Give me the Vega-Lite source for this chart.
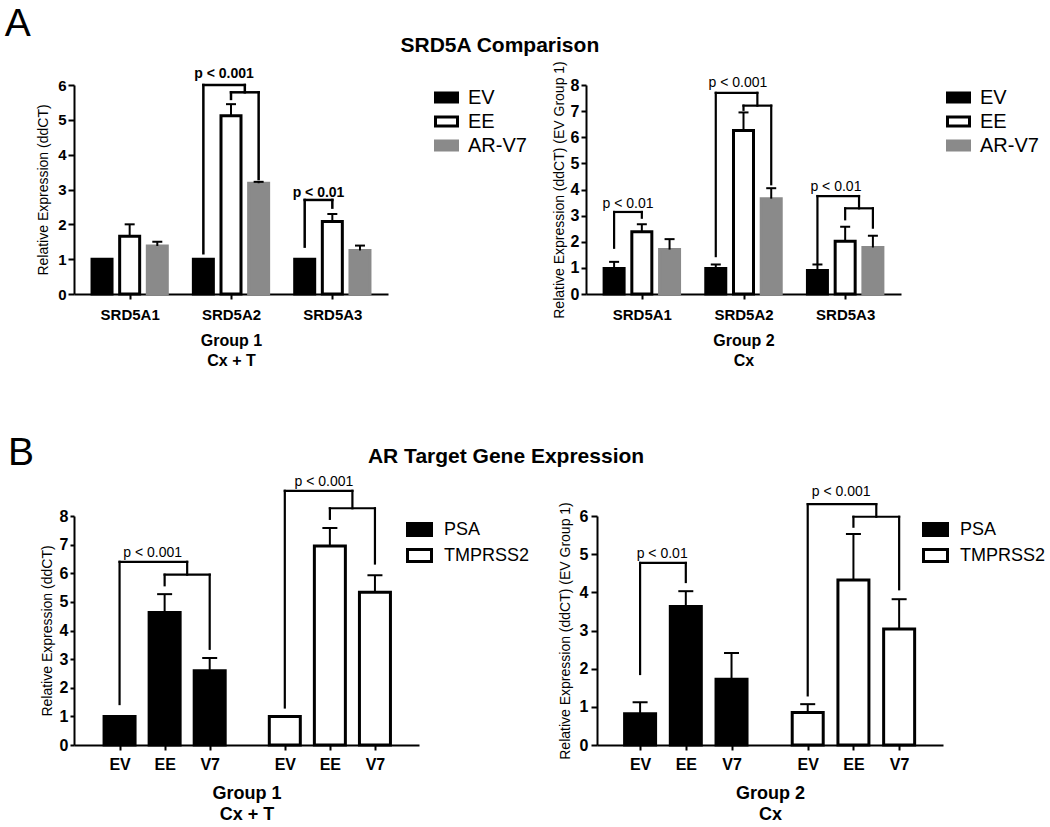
{
  "$schema": "https://vega.github.io/schema/vega-lite/v6.json",
  "padding": {"left": 4, "top": 4, "right": 0, "bottom": 0},
  "config": {
    "font": "Liberation Sans",
    "view": {"stroke": null},
    "axis": {"domainColor": "#000", "domainWidth": 2, "tickColor": "#000", "tickWidth": 2, "labelColor": "#000", "titleColor": "#000", "grid": false, "labelFont": "Liberation Sans", "titleFont": "Liberation Sans", "labelFlush": false, "labelOverlap": false},
    "legend": {"labelFont": "Liberation Sans", "labelColor": "#000"},
    "title": {"color": "#000", "font": "Liberation Sans"},
    "text": {"font": "Liberation Sans", "color": "#000"}
  },
  "resolve": {"scale": {"fill": "independent", "stroke": "independent"}, "legend": {"fill": "independent", "stroke": "independent"}},
  "datasets": {
    "bars": [
      {"panel": "A1", "label": "SRD5A1", "series": "EV", "x": 3, "y": 1.0, "hi": null},
      {"panel": "A1", "label": "SRD5A1", "series": "EE", "x": 6, "y": 1.66, "hi": 2.0},
      {"panel": "A1", "label": "SRD5A1", "series": "AR-V7", "x": 9, "y": 1.38, "hi": 1.5},
      {"panel": "A1", "label": "SRD5A2", "series": "EV", "x": 14, "y": 1.0, "hi": null},
      {"panel": "A1", "label": "SRD5A2", "series": "EE", "x": 17, "y": 5.12, "hi": 5.45},
      {"panel": "A1", "label": "SRD5A2", "series": "AR-V7", "x": 20, "y": 3.18, "hi": 3.22},
      {"panel": "A1", "label": "SRD5A3", "series": "EV", "x": 25, "y": 1.0, "hi": null},
      {"panel": "A1", "label": "SRD5A3", "series": "EE", "x": 28, "y": 2.08, "hi": 2.3},
      {"panel": "A1", "label": "SRD5A3", "series": "AR-V7", "x": 31, "y": 1.25, "hi": 1.39},
      {"panel": "A2", "label": "SRD5A1", "series": "EV", "x": 3, "y": 0.98, "hi": 1.23},
      {"panel": "A2", "label": "SRD5A1", "series": "EE", "x": 6, "y": 2.38, "hi": 2.67},
      {"panel": "A2", "label": "SRD5A1", "series": "AR-V7", "x": 9, "y": 1.7, "hi": 2.1},
      {"panel": "A2", "label": "SRD5A2", "series": "EV", "x": 14, "y": 0.98, "hi": 1.13},
      {"panel": "A2", "label": "SRD5A2", "series": "EE", "x": 17, "y": 6.26, "hi": 6.95},
      {"panel": "A2", "label": "SRD5A2", "series": "AR-V7", "x": 20, "y": 3.65, "hi": 4.05},
      {"panel": "A2", "label": "SRD5A3", "series": "EV", "x": 25, "y": 0.9, "hi": 1.13},
      {"panel": "A2", "label": "SRD5A3", "series": "EE", "x": 28, "y": 2.02, "hi": 2.57},
      {"panel": "A2", "label": "SRD5A3", "series": "AR-V7", "x": 31, "y": 1.78, "hi": 2.23},
      {"panel": "B1", "label": "EV", "series": "PSA", "x": 3, "y": 1.0, "hi": null},
      {"panel": "B1", "label": "EE", "series": "PSA", "x": 6, "y": 4.63, "hi": 5.27},
      {"panel": "B1", "label": "V7", "series": "PSA", "x": 9, "y": 2.59, "hi": 3.04},
      {"panel": "B1", "label": "EV", "series": "TMPRSS2", "x": 14, "y": 1.0, "hi": null},
      {"panel": "B1", "label": "EE", "series": "TMPRSS2", "x": 17, "y": 6.95, "hi": 7.58},
      {"panel": "B1", "label": "V7", "series": "TMPRSS2", "x": 20, "y": 5.34, "hi": 5.93},
      {"panel": "B2", "label": "EV", "series": "PSA", "x": 3, "y": 0.82, "hi": 1.12},
      {"panel": "B2", "label": "EE", "series": "PSA", "x": 6, "y": 3.63, "hi": 4.03},
      {"panel": "B2", "label": "V7", "series": "PSA", "x": 9, "y": 1.72, "hi": 2.41},
      {"panel": "B2", "label": "EV", "series": "TMPRSS2", "x": 14, "y": 0.85, "hi": 1.07},
      {"panel": "B2", "label": "EE", "series": "TMPRSS2", "x": 17, "y": 4.32, "hi": 5.53},
      {"panel": "B2", "label": "V7", "series": "TMPRSS2", "x": 20, "y": 3.04, "hi": 3.82}
    ],
    "brackets": [
      {"panel": "A1", "x": 14, "y": 1.17, "x2": 14, "y2": 6.0},
      {"panel": "A1", "x": 14, "y": 6.0, "x2": 18.5, "y2": 6.0},
      {"panel": "A1", "x": 18.5, "y": 6.0, "x2": 18.5, "y2": 5.79},
      {"panel": "A1", "x": 17, "y": 5.6, "x2": 17, "y2": 5.79},
      {"panel": "A1", "x": 17, "y": 5.79, "x2": 20, "y2": 5.79},
      {"panel": "A1", "x": 20, "y": 5.79, "x2": 20, "y2": 3.3},
      {"panel": "A1", "x": 25, "y": 1.36, "x2": 25, "y2": 2.7},
      {"panel": "A1", "x": 25, "y": 2.7, "x2": 28, "y2": 2.7},
      {"panel": "A1", "x": 28, "y": 2.7, "x2": 28, "y2": 2.48},
      {"panel": "A2", "x": 3, "y": 1.77, "x2": 3, "y2": 3.14},
      {"panel": "A2", "x": 3, "y": 3.14, "x2": 6, "y2": 3.14},
      {"panel": "A2", "x": 6, "y": 3.14, "x2": 6, "y2": 2.92},
      {"panel": "A2", "x": 14, "y": 1.45, "x2": 14, "y2": 7.7},
      {"panel": "A2", "x": 14, "y": 7.7, "x2": 18.5, "y2": 7.7},
      {"panel": "A2", "x": 18.5, "y": 7.7, "x2": 18.5, "y2": 7.21},
      {"panel": "A2", "x": 17, "y": 7.05, "x2": 17, "y2": 7.21},
      {"panel": "A2", "x": 17, "y": 7.21, "x2": 20, "y2": 7.21},
      {"panel": "A2", "x": 20, "y": 7.21, "x2": 20, "y2": 4.2},
      {"panel": "A2", "x": 25, "y": 1.19, "x2": 25, "y2": 3.75},
      {"panel": "A2", "x": 25, "y": 3.75, "x2": 29.5, "y2": 3.75},
      {"panel": "A2", "x": 29.5, "y": 3.75, "x2": 29.5, "y2": 3.28},
      {"panel": "A2", "x": 28, "y": 2.86, "x2": 28, "y2": 3.28},
      {"panel": "A2", "x": 28, "y": 3.28, "x2": 31, "y2": 3.28},
      {"panel": "A2", "x": 31, "y": 3.28, "x2": 31, "y2": 2.54},
      {"panel": "B1", "x": 3, "y": 1.43, "x2": 3, "y2": 6.4},
      {"panel": "B1", "x": 3, "y": 6.4, "x2": 7.5, "y2": 6.4},
      {"panel": "B1", "x": 7.5, "y": 6.4, "x2": 7.5, "y2": 5.95},
      {"panel": "B1", "x": 6, "y": 5.58, "x2": 6, "y2": 5.95},
      {"panel": "B1", "x": 6, "y": 5.95, "x2": 9, "y2": 5.95},
      {"panel": "B1", "x": 9, "y": 5.95, "x2": 9, "y2": 3.36},
      {"panel": "B1", "x": 14, "y": 1.31, "x2": 14, "y2": 8.88},
      {"panel": "B1", "x": 14, "y": 8.88, "x2": 18.5, "y2": 8.88},
      {"panel": "B1", "x": 18.5, "y": 8.88, "x2": 18.5, "y2": 8.27},
      {"panel": "B1", "x": 17, "y": 7.9, "x2": 17, "y2": 8.27},
      {"panel": "B1", "x": 17, "y": 8.27, "x2": 20, "y2": 8.27},
      {"panel": "B1", "x": 20, "y": 8.27, "x2": 20, "y2": 6.34},
      {"panel": "B2", "x": 3, "y": 1.86, "x2": 3, "y2": 4.77},
      {"panel": "B2", "x": 3, "y": 4.77, "x2": 6, "y2": 4.77},
      {"panel": "B2", "x": 6, "y": 4.77, "x2": 6, "y2": 4.27},
      {"panel": "B2", "x": 14, "y": 1.3, "x2": 14, "y2": 6.31},
      {"panel": "B2", "x": 14, "y": 6.31, "x2": 18.5, "y2": 6.31},
      {"panel": "B2", "x": 18.5, "y": 6.31, "x2": 18.5, "y2": 5.98},
      {"panel": "B2", "x": 17, "y": 5.72, "x2": 17, "y2": 5.98},
      {"panel": "B2", "x": 17, "y": 5.98, "x2": 20, "y2": 5.98},
      {"panel": "B2", "x": 20, "y": 5.98, "x2": 20, "y2": 4.08}
    ],
    "plabels": [
      {"panel": "A1", "x": 16.25, "y": 6.31, "text": "p < 0.001"},
      {"panel": "A1", "x": 26.5, "y": 2.89, "text": "p < 0.01"},
      {"panel": "A2", "x": 4.5, "y": 3.43, "text": "p < 0.01"},
      {"panel": "A2", "x": 16.4, "y": 8.07, "text": "p < 0.001"},
      {"panel": "A2", "x": 27.0, "y": 4.1, "text": "p < 0.01"},
      {"panel": "B1", "x": 5.2, "y": 6.72, "text": "p < 0.001"},
      {"panel": "B1", "x": 16.6, "y": 9.2, "text": "p < 0.001"},
      {"panel": "B2", "x": 4.45, "y": 5.0, "text": "p < 0.01"},
      {"panel": "B2", "x": 16.2, "y": 6.62, "text": "p < 0.001"}
    ]
  },
  "vconcat": [
    {
      "title": {"text": "A", "fontSize": 39, "fontWeight": "normal", "anchor": "start", "dx": -32, "offset": -9},
      "resolve": {"scale": {"fill": "independent", "stroke": "independent"}, "legend": {"fill": "independent", "stroke": "independent"}},
      "vconcat": [
        {
          "title": {"text": "SRD5A Comparison", "fontSize": 21, "fontWeight": "bold", "anchor": "middle", "offset": 5, "dx": -38},
          "bounds": "flush",
          "spacing": 198,
          "resolve": {"scale": {"fill": "independent", "stroke": "independent"}, "legend": {"fill": "independent", "stroke": "independent"}},
          "hconcat": [
            {
              "width": 314, "height": 209,
              "encoding": {
                "x": {"field": "x", "type": "quantitative", "scale": {"domain": [0.5, 33.5], "nice": false, "zero": false},
                  "axis": {"values": [6, 17, 28], "labelExpr": "datum.value == 6 ? 'SRD5A1' : datum.value == 17 ? 'SRD5A2' : 'SRD5A3'", "labelFontSize": 15, "labelFontWeight": "bold", "tickSize": 5, "labelPadding": 8, "title": ["Group 1", "Cx + T"], "titleFontSize": 16, "titleFontWeight": "bold", "titleLineHeight": 20, "titlePadding": 10}},
                "y": {"field": "y", "type": "quantitative", "stack": null, "scale": {"domain": [0, 6], "nice": false},
                  "axis": {"values": [0, 1, 2, 3, 4, 5, 6], "title": "Relative Expression (ddCT)", "titleFontSize": 14, "titleFontWeight": "normal", "titlePadding": 7, "labelFontSize": 15, "labelFontWeight": "bold", "tickSize": 6, "labelPadding": 2}}
              },
              "layer": [
                {"data": {"name": "bars"}, "transform": [{"filter": "datum.panel == 'A1'"}],
                  "mark": {"type": "bar", "width": 20, "strokeWidth": 3},
                  "encoding": {
                    "fill": {"field": "series", "type": "nominal", "scale": {"domain": ["EV", "EE", "AR-V7"], "range": ["#000000", "#ffffff", "#8a8a8a"]},
                      "legend": {"title": null, "orient": "right", "offset": 46, "padding": 0, "symbolType": "M-1,-0.41H1V0.41H-1Z", "symbolSize": 484, "symbolStrokeWidth": 3, "labelFontSize": 20, "labelOffset": 9, "rowPadding": 0}},
                    "stroke": {"field": "series", "type": "nominal", "scale": {"domain": ["EV", "EE", "AR-V7"], "range": ["#000000", "#000000", "#8a8a8a"]},
                      "legend": {"title": null, "orient": "right", "offset": 46, "padding": 0, "symbolType": "M-1,-0.41H1V0.41H-1Z", "symbolSize": 484, "symbolStrokeWidth": 3, "labelFontSize": 20, "labelOffset": 9, "rowPadding": 0}}
                  }},
                {"data": {"name": "bars"}, "transform": [{"filter": "datum.panel == 'A1' && datum.hi != null"}],
                  "mark": {"type": "rule", "strokeWidth": 2, "color": "#000"},
                  "encoding": {"y2": {"field": "hi"}}},
                {"data": {"name": "bars"}, "transform": [{"filter": "datum.panel == 'A1' && datum.hi != null"}],
                  "mark": {"type": "tick", "orient": "horizontal", "size": 10, "thickness": 2, "color": "#000", "opacity": 1},
                  "encoding": {"y": {"field": "hi", "type": "quantitative"}}},
                {"data": {"name": "brackets"}, "transform": [{"filter": "datum.panel == 'A1'"}],
                  "mark": {"type": "rule", "strokeWidth": 2.5, "color": "#000", "strokeCap": "square"},
                  "encoding": {"x2": {"field": "x2"}, "y2": {"field": "y2"}}},
                {"data": {"name": "plabels"}, "transform": [{"filter": "datum.panel == 'A1'"}],
                  "mark": {"type": "text", "fontSize": 14, "fontWeight": "bold", "baseline": "middle", "align": "center"},
                  "encoding": {"text": {"field": "text"}}}
              ]
            },
            {
              "width": 315, "height": 209,
              "encoding": {
                "x": {"field": "x", "type": "quantitative", "scale": {"domain": [0.5, 33.5], "nice": false, "zero": false},
                  "axis": {"values": [6, 17, 28], "labelExpr": "datum.value == 6 ? 'SRD5A1' : datum.value == 17 ? 'SRD5A2' : 'SRD5A3'", "labelFontSize": 15, "labelFontWeight": "bold", "tickSize": 5, "labelPadding": 8, "title": ["Group 2", "Cx"], "titleFontSize": 16, "titleFontWeight": "bold", "titleLineHeight": 20, "titlePadding": 10}},
                "y": {"field": "y", "type": "quantitative", "stack": null, "scale": {"domain": [0, 8], "nice": false},
                  "axis": {"values": [0, 1, 2, 3, 4, 5, 6, 7, 8], "title": "Relative Expression (ddCT) (EV Group 1)", "titleFontSize": 14, "titleFontWeight": "normal", "titlePadding": 4, "labelFontSize": 16, "labelFontWeight": "bold", "tickSize": 5, "labelPadding": 2}}
              },
              "layer": [
                {"data": {"name": "bars"}, "transform": [{"filter": "datum.panel == 'A2'"}],
                  "mark": {"type": "bar", "width": 20, "strokeWidth": 3},
                  "encoding": {
                    "fill": {"field": "series", "type": "nominal", "scale": {"domain": ["EV", "EE", "AR-V7"], "range": ["#000000", "#ffffff", "#8a8a8a"]},
                      "legend": {"title": null, "orient": "right", "offset": 45, "padding": 0, "symbolType": "M-1,-0.41H1V0.41H-1Z", "symbolSize": 484, "symbolStrokeWidth": 3, "labelFontSize": 20, "labelOffset": 9, "rowPadding": 0}},
                    "stroke": {"field": "series", "type": "nominal", "scale": {"domain": ["EV", "EE", "AR-V7"], "range": ["#000000", "#000000", "#8a8a8a"]},
                      "legend": {"title": null, "orient": "right", "offset": 45, "padding": 0, "symbolType": "M-1,-0.41H1V0.41H-1Z", "symbolSize": 484, "symbolStrokeWidth": 3, "labelFontSize": 20, "labelOffset": 9, "rowPadding": 0}}
                  }},
                {"data": {"name": "bars"}, "transform": [{"filter": "datum.panel == 'A2' && datum.hi != null"}],
                  "mark": {"type": "rule", "strokeWidth": 2, "color": "#000"},
                  "encoding": {"y2": {"field": "hi"}}},
                {"data": {"name": "bars"}, "transform": [{"filter": "datum.panel == 'A2' && datum.hi != null"}],
                  "mark": {"type": "tick", "orient": "horizontal", "size": 10, "thickness": 2, "color": "#000", "opacity": 1},
                  "encoding": {"y": {"field": "hi", "type": "quantitative"}}},
                {"data": {"name": "brackets"}, "transform": [{"filter": "datum.panel == 'A2'"}],
                  "mark": {"type": "rule", "strokeWidth": 2.2, "color": "#000", "strokeCap": "square"},
                  "encoding": {"x2": {"field": "x2"}, "y2": {"field": "y2"}}},
                {"data": {"name": "plabels"}, "transform": [{"filter": "datum.panel == 'A2'"}],
                  "mark": {"type": "text", "fontSize": 14, "fontWeight": "normal", "baseline": "middle", "align": "center"},
                  "encoding": {"text": {"field": "text"}}}
              ]
            }
          ]
        }
      ]
    },
    {
      "title": {"text": "B", "fontSize": 39, "fontWeight": "normal", "anchor": "start", "dx": -32, "offset": -27},
      "resolve": {"scale": {"fill": "independent", "stroke": "independent"}, "legend": {"fill": "independent", "stroke": "independent"}},
      "vconcat": [
        {
          "title": {"text": "AR Target Gene Expression", "fontSize": 21, "fontWeight": "bold", "anchor": "middle", "offset": 8, "dx": -37},
          "bounds": "flush",
          "spacing": 178,
          "resolve": {"scale": {"fill": "independent", "stroke": "independent"}, "legend": {"fill": "independent", "stroke": "independent"}},
          "hconcat": [
            {
              "width": 345, "height": 229,
              "encoding": {
                "x": {"field": "x", "type": "quantitative", "scale": {"domain": [0.3, 22.6], "nice": false, "zero": false},
                  "axis": {"values": [3, 6, 9, 14, 17, 20], "labelExpr": "datum.value == 3 || datum.value == 14 ? 'EV' : datum.value == 6 || datum.value == 17 ? 'EE' : 'V7'", "labelFontSize": 16, "labelFontWeight": "bold", "tickSize": 5, "labelPadding": 6, "title": ["Group 1", "Cx + T"], "titleFontSize": 18, "titleFontWeight": "bold", "titleLineHeight": 21, "titlePadding": 12}},
                "y": {"field": "y", "type": "quantitative", "stack": null, "scale": {"domain": [0, 8], "nice": false},
                  "axis": {"values": [0, 1, 2, 3, 4, 5, 6, 7, 8], "title": "Relative Expression (ddCT)", "titleFontSize": 14, "titleFontWeight": "normal", "titlePadding": 5, "labelFontSize": 16, "labelFontWeight": "bold", "tickSize": 4, "labelPadding": 2}}
              },
              "layer": [
                {"data": {"name": "bars"}, "transform": [{"filter": "datum.panel == 'B1'"}],
                  "mark": {"type": "bar", "width": 31, "strokeWidth": 3},
                  "encoding": {
                    "fill": {"field": "series", "type": "nominal", "scale": {"domain": ["PSA", "TMPRSS2"], "range": ["#000000", "#ffffff"]},
                      "legend": {"title": null, "orient": "right", "offset": -13, "padding": 0, "symbolType": "M-1,-0.5H1V0.5H-1Z", "symbolSize": 576, "symbolStrokeWidth": 3, "labelFontSize": 18, "labelOffset": 11, "rowPadding": 0}},
                    "stroke": {"field": "series", "type": "nominal", "scale": {"domain": ["PSA", "TMPRSS2"], "range": ["#000000", "#000000"]},
                      "legend": {"title": null, "orient": "right", "offset": -13, "padding": 0, "symbolType": "M-1,-0.5H1V0.5H-1Z", "symbolSize": 576, "symbolStrokeWidth": 3, "labelFontSize": 18, "labelOffset": 11, "rowPadding": 0}}
                  }},
                {"data": {"name": "bars"}, "transform": [{"filter": "datum.panel == 'B1' && datum.hi != null"}],
                  "mark": {"type": "rule", "strokeWidth": 2, "color": "#000"},
                  "encoding": {"y2": {"field": "hi"}}},
                {"data": {"name": "bars"}, "transform": [{"filter": "datum.panel == 'B1' && datum.hi != null"}],
                  "mark": {"type": "tick", "orient": "horizontal", "size": 15, "thickness": 2, "color": "#000", "opacity": 1},
                  "encoding": {"y": {"field": "hi", "type": "quantitative"}}},
                {"data": {"name": "brackets"}, "transform": [{"filter": "datum.panel == 'B1'"}],
                  "mark": {"type": "rule", "strokeWidth": 2.2, "color": "#000", "strokeCap": "square"},
                  "encoding": {"x2": {"field": "x2"}, "y2": {"field": "y2"}}},
                {"data": {"name": "plabels"}, "transform": [{"filter": "datum.panel == 'B1'"}],
                  "mark": {"type": "text", "fontSize": 14, "fontWeight": "normal", "baseline": "middle", "align": "center"},
                  "encoding": {"text": {"field": "text"}}}
              ]
            },
            {
              "width": 346, "height": 229,
              "encoding": {
                "x": {"field": "x", "type": "quantitative", "scale": {"domain": [0.5, 22.55], "nice": false, "zero": false},
                  "axis": {"values": [3, 6, 9, 14, 17, 20], "labelExpr": "datum.value == 3 || datum.value == 14 ? 'EV' : datum.value == 6 || datum.value == 17 ? 'EE' : 'V7'", "labelFontSize": 16, "labelFontWeight": "bold", "tickSize": 5, "labelPadding": 6, "title": ["Group 2", "Cx"], "titleFontSize": 18, "titleFontWeight": "bold", "titleLineHeight": 21, "titlePadding": 12}},
                "y": {"field": "y", "type": "quantitative", "stack": null, "scale": {"domain": [0, 6], "nice": false},
                  "axis": {"values": [0, 1, 2, 3, 4, 5, 6], "title": "Relative Expression (ddCT) (EV Group 1)", "titleFontSize": 14, "titleFontWeight": "normal", "titlePadding": 7, "labelFontSize": 16, "labelFontWeight": "bold", "tickSize": 6, "labelPadding": 3}}
              },
              "layer": [
                {"data": {"name": "bars"}, "transform": [{"filter": "datum.panel == 'B2'"}],
                  "mark": {"type": "bar", "width": 31, "strokeWidth": 3},
                  "encoding": {
                    "fill": {"field": "series", "type": "nominal", "scale": {"domain": ["PSA", "TMPRSS2"], "range": ["#000000", "#ffffff"]},
                      "legend": {"title": null, "orient": "right", "offset": -21, "padding": 0, "symbolType": "M-1,-0.5H1V0.5H-1Z", "symbolSize": 576, "symbolStrokeWidth": 3, "labelFontSize": 18, "labelOffset": 11, "rowPadding": 0}},
                    "stroke": {"field": "series", "type": "nominal", "scale": {"domain": ["PSA", "TMPRSS2"], "range": ["#000000", "#000000"]},
                      "legend": {"title": null, "orient": "right", "offset": -21, "padding": 0, "symbolType": "M-1,-0.5H1V0.5H-1Z", "symbolSize": 576, "symbolStrokeWidth": 3, "labelFontSize": 18, "labelOffset": 11, "rowPadding": 0}}
                  }},
                {"data": {"name": "bars"}, "transform": [{"filter": "datum.panel == 'B2' && datum.hi != null"}],
                  "mark": {"type": "rule", "strokeWidth": 2, "color": "#000"},
                  "encoding": {"y2": {"field": "hi"}}},
                {"data": {"name": "bars"}, "transform": [{"filter": "datum.panel == 'B2' && datum.hi != null"}],
                  "mark": {"type": "tick", "orient": "horizontal", "size": 15, "thickness": 2, "color": "#000", "opacity": 1},
                  "encoding": {"y": {"field": "hi", "type": "quantitative"}}},
                {"data": {"name": "brackets"}, "transform": [{"filter": "datum.panel == 'B2'"}],
                  "mark": {"type": "rule", "strokeWidth": 2.2, "color": "#000", "strokeCap": "square"},
                  "encoding": {"x2": {"field": "x2"}, "y2": {"field": "y2"}}},
                {"data": {"name": "plabels"}, "transform": [{"filter": "datum.panel == 'B2'"}],
                  "mark": {"type": "text", "fontSize": 14, "fontWeight": "normal", "baseline": "middle", "align": "center"},
                  "encoding": {"text": {"field": "text"}}}
              ]
            }
          ]
        }
      ]
    }
  ],
  "spacing": 65
}
